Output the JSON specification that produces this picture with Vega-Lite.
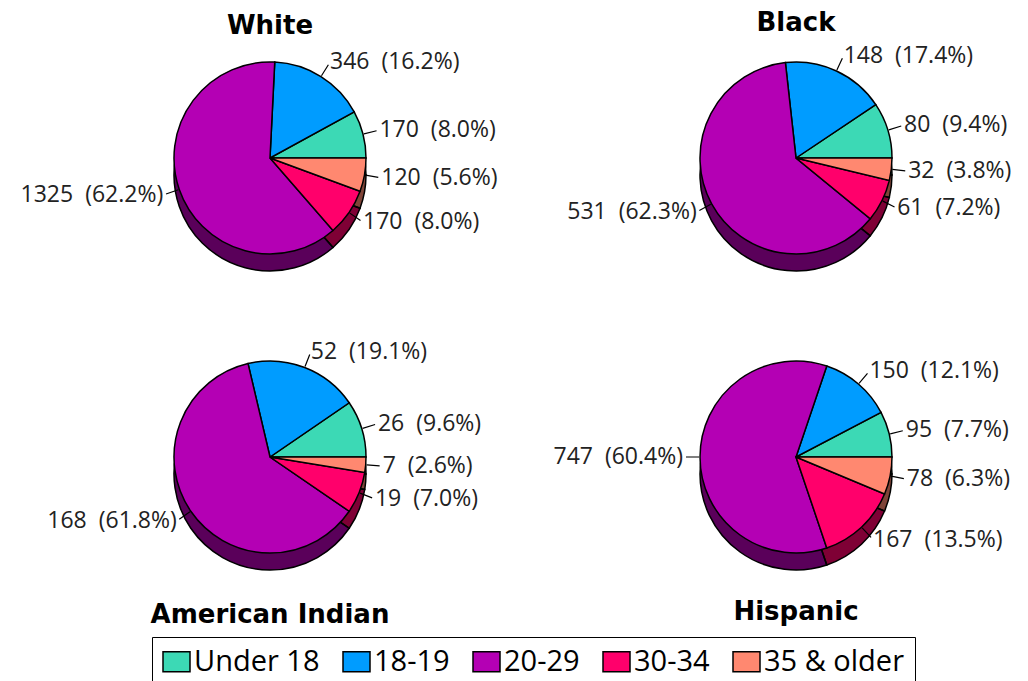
{
  "$schema": "https://vega.github.io/schema/vega-lite/v6.json",
  "background": "white",
  "padding": {"left": 20, "top": 9, "right": 0, "bottom": 0},
  "bounds": "flush",
  "columns": 2,
  "spacing": {"column": 86, "row": 79},
  "data": {
    "values": [
      {"group": "White", "age": "Under 18", "n": 170, "pct": 8.0},
      {"group": "White", "age": "18-19", "n": 346, "pct": 16.2},
      {"group": "White", "age": "20-29", "n": 1325, "pct": 62.2},
      {"group": "White", "age": "30-34", "n": 170, "pct": 8.0},
      {"group": "White", "age": "35 & older", "n": 120, "pct": 5.6},
      {"group": "Black", "age": "Under 18", "n": 80, "pct": 9.4},
      {"group": "Black", "age": "18-19", "n": 148, "pct": 17.4},
      {"group": "Black", "age": "20-29", "n": 531, "pct": 62.3},
      {"group": "Black", "age": "30-34", "n": 61, "pct": 7.2},
      {"group": "Black", "age": "35 & older", "n": 32, "pct": 3.8},
      {"group": "American Indian", "age": "Under 18", "n": 26, "pct": 9.6},
      {"group": "American Indian", "age": "18-19", "n": 52, "pct": 19.1},
      {"group": "American Indian", "age": "20-29", "n": 168, "pct": 61.8},
      {"group": "American Indian", "age": "30-34", "n": 19, "pct": 7.0},
      {"group": "American Indian", "age": "35 & older", "n": 7, "pct": 2.6},
      {"group": "Hispanic", "age": "Under 18", "n": 95, "pct": 7.7},
      {"group": "Hispanic", "age": "18-19", "n": 150, "pct": 12.1},
      {"group": "Hispanic", "age": "20-29", "n": 747, "pct": 60.4},
      {"group": "Hispanic", "age": "30-34", "n": 167, "pct": 13.5},
      {"group": "Hispanic", "age": "35 & older", "n": 78, "pct": 6.3}
    ]
  },
  "transform": [
    {"calculate": "indexof(['35 & older', '30-34', '20-29', '18-19', 'Under 18'], datum.age)", "as": "k"},
    {"joinaggregate": [{"op": "sum", "field": "n", "as": "total"}], "groupby": ["group"]},
    {"window": [{"op": "sum", "field": "n", "as": "cum"}], "groupby": ["group"], "sort": [{"field": "k", "order": "ascending"}], "frame": [null, 0]},
    {"calculate": "(datum.cum - datum.n) / datum.total", "as": "t0"},
    {"calculate": "datum.cum / datum.total", "as": "t1"},
    {"calculate": "(datum.cum - datum.n / 2) / datum.total", "as": "tm"},
    {"calculate": "datum.n + '\u00a0 (' + format(datum.pct, '.1f') + '%)'", "as": "label"}
  ],
  "concat": [
    {
      "width": 440, "height": 220,
      "title": {"text": "White", "orient": "top", "frame": "group", "offset": 9},
      "transform": [{"filter": "datum.group === 'White'"}],
      "layer": [
        {"mark": {"type": "arc", "radius": 96, "yOffset": 17},
         "encoding": {"theta": {"field": "t0", "type": "quantitative", "scale": {"domain": [0, 1], "range": [1.5708, 7.854]}}, "theta2": {"field": "t1"},
                      "color": {"field": "age", "type": "nominal", "title": null, "scale": {"domain": ["Under 18", "18-19", "20-29", "30-34", "35 & older"], "range": ["#3CD9B5", "#009CFF", "#B400B4", "#FF006B", "#FF8870"]}}}},
        {"mark": {"type": "arc", "radius": 96, "yOffset": 17, "fill": "black", "fillOpacity": 0.5, "stroke": "black", "strokeWidth": 1.5},
         "encoding": {"theta": {"field": "t0", "type": "quantitative"}, "theta2": {"field": "t1"}}},
        {"mark": {"type": "arc", "radius": 96, "stroke": "black", "strokeWidth": 1.5},
         "encoding": {"theta": {"field": "t0", "type": "quantitative"}, "theta2": {"field": "t1"},
                      "color": {"field": "age", "type": "nominal", "title": null}}},
        {"mark": {"type": "arc", "outerRadius": 110, "innerRadius": 97, "stroke": "black", "strokeWidth": 1.2},
         "encoding": {"theta": {"field": "tm", "type": "quantitative"}, "theta2": {"field": "tm"}}},
        {"transform": [{"filter": "datum.age === '20-29'"}],
         "mark": {"type": "text", "radius": 113, "align": "right", "baseline": "middle", "font": "Open Sans", "fontSize": 23, "color": "#222"},
         "encoding": {"theta": {"field": "tm", "type": "quantitative"}, "text": {"field": "label"}}},
        {"transform": [{"filter": "datum.age !== '20-29'"}],
         "mark": {"type": "text", "radius": 113, "align": "left", "baseline": "middle", "font": "Open Sans", "fontSize": 23, "color": "#222"},
         "encoding": {"theta": {"field": "tm", "type": "quantitative"}, "text": {"field": "label"}}}
      ]
    },
    {
      "width": 440, "height": 220,
      "title": {"text": "Black", "orient": "top", "frame": "group", "offset": 9},
      "transform": [{"filter": "datum.group === 'Black'"}],
      "layer": [
        {"mark": {"type": "arc", "radius": 96, "yOffset": 17},
         "encoding": {"theta": {"field": "t0", "type": "quantitative", "scale": {"domain": [0, 1], "range": [1.5708, 7.854]}}, "theta2": {"field": "t1"},
                      "color": {"field": "age", "type": "nominal", "title": null}}},
        {"mark": {"type": "arc", "radius": 96, "yOffset": 17, "fill": "black", "fillOpacity": 0.5, "stroke": "black", "strokeWidth": 1.5},
         "encoding": {"theta": {"field": "t0", "type": "quantitative"}, "theta2": {"field": "t1"}}},
        {"mark": {"type": "arc", "radius": 96, "stroke": "black", "strokeWidth": 1.5},
         "encoding": {"theta": {"field": "t0", "type": "quantitative"}, "theta2": {"field": "t1"},
                      "color": {"field": "age", "type": "nominal", "title": null}}},
        {"mark": {"type": "arc", "outerRadius": 110, "innerRadius": 97, "stroke": "black", "strokeWidth": 1.2},
         "encoding": {"theta": {"field": "tm", "type": "quantitative"}, "theta2": {"field": "tm"}}},
        {"transform": [{"filter": "datum.age === '20-29'"}],
         "mark": {"type": "text", "radius": 113, "align": "right", "baseline": "middle", "font": "Open Sans", "fontSize": 23, "color": "#222"},
         "encoding": {"theta": {"field": "tm", "type": "quantitative"}, "text": {"field": "label"}}},
        {"transform": [{"filter": "datum.age !== '20-29'"}],
         "mark": {"type": "text", "radius": 113, "align": "left", "baseline": "middle", "font": "Open Sans", "fontSize": 23, "color": "#222"},
         "encoding": {"theta": {"field": "tm", "type": "quantitative"}, "text": {"field": "label"}}}
      ]
    },
    {
      "width": 440, "height": 220,
      "title": {"text": "American Indian", "orient": "bottom", "frame": "group", "offset": 29},
      "transform": [{"filter": "datum.group === 'American Indian'"}],
      "layer": [
        {"mark": {"type": "arc", "radius": 96, "yOffset": 17},
         "encoding": {"theta": {"field": "t0", "type": "quantitative", "scale": {"domain": [0, 1], "range": [1.5708, 7.854]}}, "theta2": {"field": "t1"},
                      "color": {"field": "age", "type": "nominal", "title": null}}},
        {"mark": {"type": "arc", "radius": 96, "yOffset": 17, "fill": "black", "fillOpacity": 0.5, "stroke": "black", "strokeWidth": 1.5},
         "encoding": {"theta": {"field": "t0", "type": "quantitative"}, "theta2": {"field": "t1"}}},
        {"mark": {"type": "arc", "radius": 96, "stroke": "black", "strokeWidth": 1.5},
         "encoding": {"theta": {"field": "t0", "type": "quantitative"}, "theta2": {"field": "t1"},
                      "color": {"field": "age", "type": "nominal", "title": null}}},
        {"mark": {"type": "arc", "outerRadius": 110, "innerRadius": 97, "stroke": "black", "strokeWidth": 1.2},
         "encoding": {"theta": {"field": "tm", "type": "quantitative"}, "theta2": {"field": "tm"}}},
        {"transform": [{"filter": "datum.age === '20-29'"}],
         "mark": {"type": "text", "radius": 113, "align": "right", "baseline": "middle", "font": "Open Sans", "fontSize": 23, "color": "#222"},
         "encoding": {"theta": {"field": "tm", "type": "quantitative"}, "text": {"field": "label"}}},
        {"transform": [{"filter": "datum.age !== '20-29'"}],
         "mark": {"type": "text", "radius": 113, "align": "left", "baseline": "middle", "font": "Open Sans", "fontSize": 23, "color": "#222"},
         "encoding": {"theta": {"field": "tm", "type": "quantitative"}, "text": {"field": "label"}}}
      ]
    },
    {
      "width": 440, "height": 220,
      "title": {"text": "Hispanic", "orient": "bottom", "frame": "group", "offset": 26},
      "transform": [{"filter": "datum.group === 'Hispanic'"}],
      "layer": [
        {"mark": {"type": "arc", "radius": 96, "yOffset": 17},
         "encoding": {"theta": {"field": "t0", "type": "quantitative", "scale": {"domain": [0, 1], "range": [1.5708, 7.854]}}, "theta2": {"field": "t1"},
                      "color": {"field": "age", "type": "nominal", "title": null}}},
        {"mark": {"type": "arc", "radius": 96, "yOffset": 17, "fill": "black", "fillOpacity": 0.5, "stroke": "black", "strokeWidth": 1.5},
         "encoding": {"theta": {"field": "t0", "type": "quantitative"}, "theta2": {"field": "t1"}}},
        {"mark": {"type": "arc", "radius": 96, "stroke": "black", "strokeWidth": 1.5},
         "encoding": {"theta": {"field": "t0", "type": "quantitative"}, "theta2": {"field": "t1"},
                      "color": {"field": "age", "type": "nominal", "title": null}}},
        {"mark": {"type": "arc", "outerRadius": 110, "innerRadius": 97, "stroke": "black", "strokeWidth": 1.2},
         "encoding": {"theta": {"field": "tm", "type": "quantitative"}, "theta2": {"field": "tm"}}},
        {"transform": [{"filter": "datum.age === '20-29'"}],
         "mark": {"type": "text", "radius": 113, "align": "right", "baseline": "middle", "font": "Open Sans", "fontSize": 23, "color": "#222"},
         "encoding": {"theta": {"field": "tm", "type": "quantitative"}, "text": {"field": "label"}}},
        {"transform": [{"filter": "datum.age !== '20-29'"}],
         "mark": {"type": "text", "radius": 113, "align": "left", "baseline": "middle", "font": "Open Sans", "fontSize": 23, "color": "#222"},
         "encoding": {"theta": {"field": "tm", "type": "quantitative"}, "text": {"field": "label"}}}
      ]
    }
  ],
  "config": {
    "view": {"stroke": null},
    "title": {"font": "DejaVu Sans", "fontWeight": "bold", "fontSize": 26, "color": "black", "anchor": "middle", "baseline": "alphabetic"},
    "legend": {
      "orient": "none", "legendX": 102, "legendY": 589, "direction": "horizontal",
      "strokeColor": "black", "strokeWidth": 1, "fillColor": "white", "padding": 10,
      "symbolType": "M-1.35,-1H1.35V1H-1.35Z", "symbolSize": 400, "symbolStrokeColor": "black", "symbolStrokeWidth": 1.5, "symbolOpacity": 1,
      "labelFont": "Open Sans", "labelFontSize": 29, "labelColor": "black", "labelOffset": 3, "labelLimit": 400, "columnPadding": 20
    }
  }
}
